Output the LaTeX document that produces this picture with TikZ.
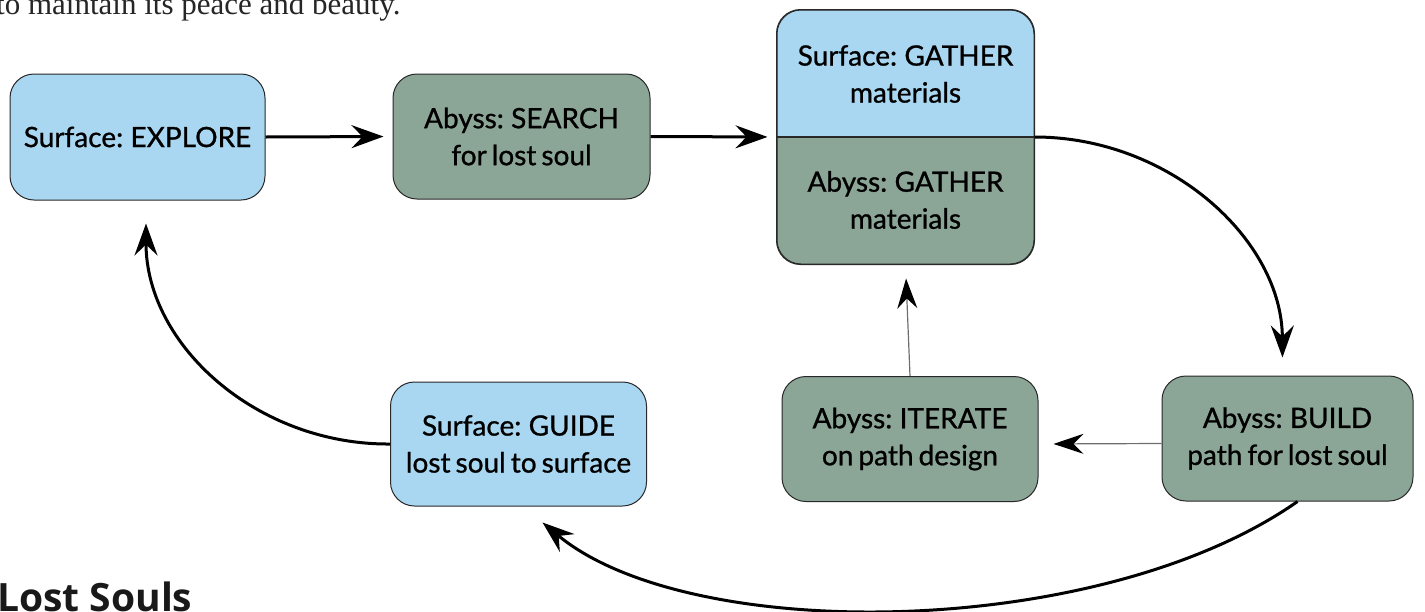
\documentclass[tikz,border=0pt]{standalone}
\usepackage{fontspec}
\setmainfont{Lato}
\newfontfamily\boxfont{Lato}[FakeBold=0.9, WordSpace=0.7]
\newfontfamily\serifX{Liberation Serif}
\newfontfamily\headX{Open Sans}
\usetikzlibrary{arrows.meta,calc}
\definecolor{blueC}{RGB}{169,214,240}
\definecolor{greenC}{RGB}{139,165,151}
\definecolor{edgeC}{RGB}{40,40,40}
\definecolor{thinC}{RGB}{110,110,110}
\tikzset{
  boxtext/.style={font=\boxfont\fontsize{28}{37}\selectfont},
  box/.style={draw=edgeC, line width=1pt, rounded corners=24pt, minimum width=256pt,
    minimum height=125pt, align=center, inner sep=0pt, boxtext},
  bluebox/.style={box, fill=blueC},
  greenbox/.style={box, fill=greenC},
  thickarrow/.style={line width=3pt, -{Stealth[length=32pt,width=23pt,inset=11pt]}},
  thinarrow/.style={line width=1.2pt, draw=thinC, -{Stealth[length=30pt,width=20pt,inset=10pt,color=black]}},
}
\begin{document}
\begin{tikzpicture}[x=1pt,y=-1pt]
\useasboundingbox (0,0) rectangle (1425,611);
\clip (0,0) rectangle (1425,611);

\node[anchor=base west, inner sep=0pt, text=black!85, font=\serifX\fontsize{31}{31}\selectfont] (intro) at (-4,14) {to maintain its peace and beauty.};
\node[anchor=base west, inner sep=0pt, text=black!90, font=\headX\bfseries\fontsize{39}{39}\selectfont] (title) at (-3,611) {Lost Souls};

\node[bluebox, minimum width=255pt, minimum height=126pt] (explore) at (137.5,137) {Surface: EXPLORE};
\node[greenbox, minimum width=257pt] (search) at (521.5,136.5) {Abyss: SEARCH\\for lost soul};
\node[box, fill=greenC, minimum width=257pt, minimum height=254pt,
  path picture={\fill[blueC, sharp corners] (path picture bounding box.north west) rectangle (path picture bounding box.east);}]
  (gather) at (905.5,137) {};
\draw[edgeC, line width=1.5pt] (gather.west) -- (gather.east);
\draw[edgeC, line width=1pt, rounded corners=24pt] (gather.north west) rectangle (gather.south east);
\node[align=center, inner sep=0pt, boxtext] (gtop) at (905.5,74) {Surface: GATHER\\materials};
\node[align=center, inner sep=0pt, boxtext] (gbot) at (905.5,200) {Abyss: GATHER\\materials};
\node[greenbox, minimum width=251pt] (build) at (1287.5,438.5) {Abyss: BUILD\\path for lost soul};
\node[greenbox] (iterate) at (910,439) {Abyss: ITERATE\\on path design};
\node[bluebox, minimum height=124pt] (guide) at (518.5,444) {Surface: GUIDE\\lost soul to surface};

\draw[thickarrow, shorten >=9pt] (explore.east) -- (search.west);
\draw[thickarrow, shorten >=9pt] (search.east) -- (gather.west);
\draw[thickarrow, shorten >=18pt] (gather.east) .. controls (1170,137) and (1282,240) .. ($(build.north)+(-5,0)$);
\draw[thinarrow, shorten >=15pt] ([yshift=-5pt]build.west) -- ([yshift=-5pt]iterate.east);
\draw[thinarrow, shorten >=14pt] (iterate.north) -- (gather.south);
\draw[thickarrow] ([xshift=10pt]build.south) .. controls (1100,640) and (690,645) .. ($(guide.south)+(24,16)$);
\draw[thickarrow] (guide.west) .. controls (257,445) and (146,345) .. ($(explore.south)+(8.5,23)$);
\end{tikzpicture}
\end{document}
